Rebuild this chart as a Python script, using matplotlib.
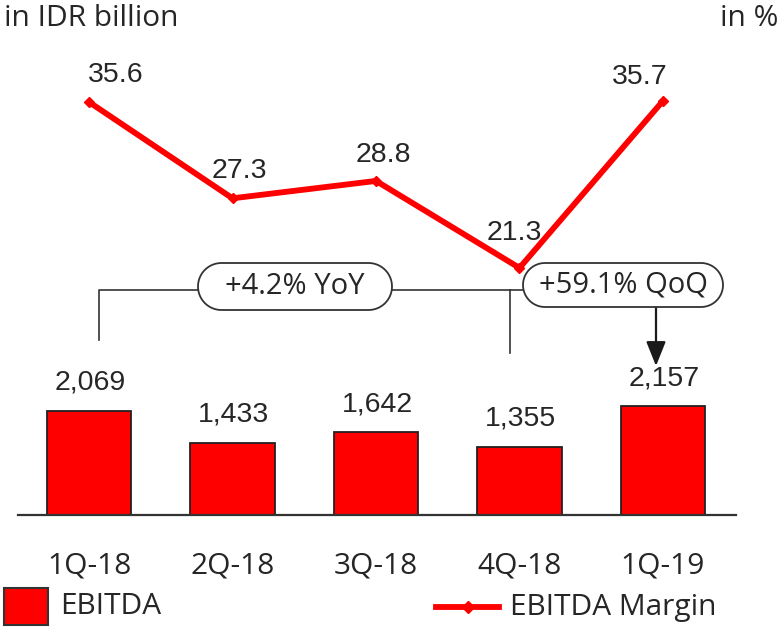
import matplotlib
matplotlib.use("Agg")
import matplotlib.pyplot as plt
from matplotlib.patches import Polygon, Rectangle
from matplotlib.lines import Line2D
import numpy as np

# ---- data ----
quarters = ['1Q-18', '2Q-18', '3Q-18', '4Q-18', '1Q-19']
ebitda = [2069, 1433, 1642, 1355, 2157]
margin = [35.6, 27.3, 28.8, 21.3, 35.7]
ebitda_labels = ['2,069', '1,433', '1,642', '1,355', '2,157']
yoy_text = '+4.2% YoY'
qoq_text = '+59.1% QoQ'

RED = '#ff0000'
DARK = '#262626'
LABEL_FONT = 'Open Sans'
VALUE_FONT = 'Liberation Sans'

W, H = 781, 630
fig = plt.figure(figsize=(W / 100, H / 100), dpi=100)

def fp(x, y):
    # image pixel (top-left origin) -> figure pixel
    return (x, H - y)

# axes placed so that bar scale and line scale share the baseline
base_px, top_px, left_px, right_px = 515, 45, 18, 736
ax = fig.add_axes([left_px / W, (H - base_px) / H,
                   (right_px - left_px) / W, (base_px - top_px) / H])
ax2 = ax.twinx()

x = np.arange(len(quarters))
ax.bar(x, ebitda, width=0.59, color=RED, edgecolor='#222222', linewidth=1.3, zorder=2)
ax.set_xlim(-0.495, 4.509)
ax.set_ylim(0, (base_px - top_px) * 19.8)
ax2.set_ylim(0, (base_px - top_px) / 11.6)

ax2.plot(x, margin, color=RED, linewidth=4.2, marker='D', markersize=5,
         solid_capstyle='butt', zorder=3)

for a in (ax, ax2):
    for s in ['top', 'left', 'right']:
        a.spines[s].set_visible(False)
    a.set_yticks([])
ax2.spines['bottom'].set_visible(False)
ax.spines['bottom'].set_color('#333333')
ax.spines['bottom'].set_linewidth(1.6)
ax.set_xticks(x)
ax.set_xticklabels(quarters, fontsize=21.5, family=LABEL_FONT, color=DARK)
ax.tick_params(axis='x', length=0, pad=26)

# bar value labels
for i, (v, t) in enumerate(zip(ebitda, ebitda_labels)):
    ax.annotate(t, (i, v), xytext=(1, 15), textcoords='offset points',
                ha='center', va='baseline', fontsize=20.5, family=VALUE_FONT, color=DARK)

# margin labels (offsets in px)
m_off = [(26.5, 20), (7, 20), (7, 19), (-5.5, 28), (-23, 17)]
for i, (v, (dx, dy)) in enumerate(zip(margin, m_off)):
    ax2.annotate('%.1f' % v, (i, v), xytext=(dx * 0.72, dy * 0.72), textcoords='offset points',
                 ha='center', va='baseline', fontsize=20.5, family=VALUE_FONT, color=DARK)

# unit captions
fig.text(4 / W, 1 - 18 / H, 'in IDR billion', fontsize=21.5, family=LABEL_FONT,
         color=DARK, ha='left', va='center')
fig.text(778 / W, 1 - 18 / H, 'in %', fontsize=21.5, family=LABEL_FONT,
         color=DARK, ha='right', va='center')

# brackets and growth boxes
bc = '#333333'
seg = [[(99, 340), (99, 290), (198, 290)],
       [(392, 290), (523, 290)],
       [(510, 290), (510, 353)]]
for s in seg:
    xs = [p[0] for p in s]
    ys = [H - p[1] for p in s]
    fig.add_artist(Line2D(np.array(xs) / W, np.array(ys) / H, color=bc, linewidth=1.2))

def pill(x0, y0, x1, y1, text):
    # capsule shape with semicircular ends, in figure pixels
    r = (y1 - y0) / 2
    yc = H - (y0 + y1) / 2
    t = np.linspace(-np.pi / 2, np.pi / 2, 40)
    right = np.column_stack([x1 - r + r * np.cos(t), yc + r * np.sin(t)])
    left = np.column_stack([x0 + r - r * np.cos(t), yc - r * np.sin(t)])
    pts = np.vstack([right, left])
    pts = pts / np.array([W, H])
    fig.add_artist(Polygon(pts, closed=True, facecolor='white', edgecolor=bc,
                           linewidth=1.3, transform=fig.transFigure, zorder=5))
    fig.text((x0 + x1) / 2 / W, yc / H, text, ha='center', va='center',
             fontsize=21, family=LABEL_FONT, color=DARK, zorder=6)

pill(198, 263, 392, 310, yoy_text)
pill(523, 263, 723, 307, qoq_text)

ax.annotate('', xy=fp(656, 366), xytext=fp(656, 307),
            xycoords='figure pixels', textcoords='figure pixels',
            arrowprops=dict(arrowstyle='-|>,head_length=1.5,head_width=0.6',
                            color='#1a1a1a', linewidth=1.6, shrinkA=0, shrinkB=0))

# legend drawn by hand
fig.add_artist(Rectangle((4 / W, (H - 625) / H), 44 / W, 37 / H, facecolor=RED,
                         edgecolor='#333333', linewidth=1.5, transform=fig.transFigure))
fig.text(60 / W, 1 - 607 / H, 'EBITDA', fontsize=21.5, family=LABEL_FONT,
         color=DARK, ha='left', va='center')
fig.add_artist(Line2D([436 / W, 499 / W], [(H - 607) / H] * 2, color=RED,
                      linewidth=4.2))
fig.add_artist(Line2D([467.5 / W], [(H - 607) / H], color=RED, marker='D',
                      markersize=6))
fig.text(510 / W, 1 - 607 / H, 'EBITDA Margin', fontsize=21.5, family=LABEL_FONT,
         color=DARK, ha='left', va='center')

fig.savefig('out.png', dpi=100)
